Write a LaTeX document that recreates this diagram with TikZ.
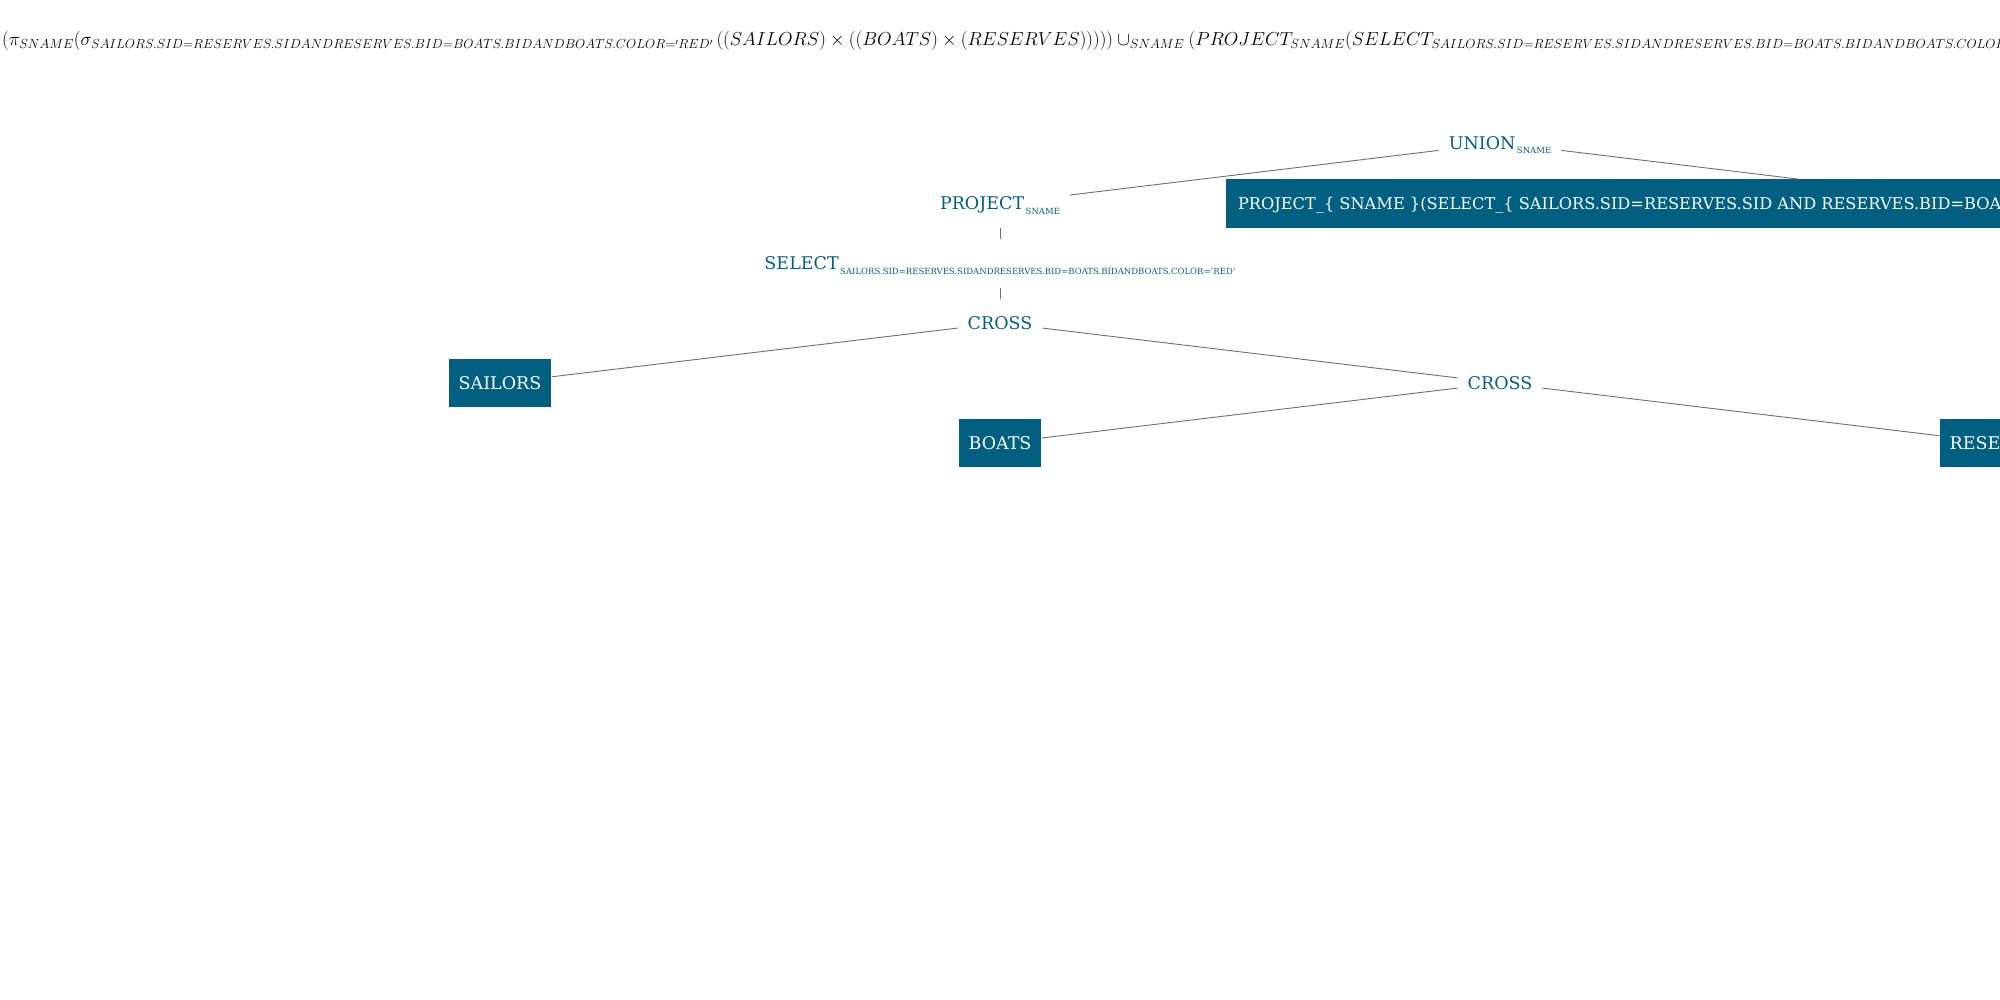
\RequirePackage{fix-cm}
\documentclass[tikz,border=0pt]{standalone}
\usepackage{fontspec}
\setmainfont{DejaVu Serif}
\definecolor{teal0}{RGB}{1,96,130}
\definecolor{edgegray}{RGB}{110,110,110}
\newcommand\opsub[1]{\kern1.5pt\raisebox{-4.5pt}[0pt][0pt]{\fontsize{8.5}{9}\selectfont #1}}
\begin{document}
\begin{tikzpicture}[x=1pt,y=-1pt,
  lbl/.style={text=teal0, inner xsep=10pt, inner ysep=0pt, minimum height=48.5pt,
    text height=12.8pt, text depth=0pt, font=\fontsize{17.5}{20}\selectfont},
  rel/.style={lbl, fill=teal0, text=white},
  edge/.style={draw=edgegray, line width=0.9pt}]
\useasboundingbox (0,0) rectangle (2000,1000);
\clip (0,0) rectangle (2000,1000);
\node[anchor=base west, inner sep=0pt, font=\fontsize{18.8}{22}\selectfont] (formula) at (2,46)
 {$(\pi_{SNAME}(\sigma_{SAILORS.SID=RESERVES.SIDANDRESERVES.BID=BOATS.BIDANDBOATS.COLOR='RED'}\,((SAILORS)\times((BOATS)\times(RESERVES))))) \cup_{SNAME} (PROJECT_{SNAME}(SELECT_{SAILORS.SID=RESERVES.SIDANDRESERVES.BID=BOATS.BIDANDBOATS.COLOR='RED'}$};
\node[lbl] (union) at (1500,143) {UNION\opsub{SNAME}};
\node[lbl] (project) at (1000,203.5) {PROJECT\opsub{SNAME}};
\node[rel, inner xsep=12pt, text height=12pt, font=\fontsize{16.2}{20}\selectfont] (big) at (2000,203.5) {\makebox[1524pt][l]{PROJECT\_\{ SNAME \}(SELECT\_\{ SAILORS.SID=RESERVES.SID AND RESERVES.BID=BOATS.BID AND BOATS.COLOR='RED' \}}};
\node[lbl] (select) at (1000,263.5) {SELECT\opsub{SAILORS.SID=RESERVES.SIDANDRESERVES.BID=BOATS.BIDANDBOATS.COLOR='RED'}};
\node[lbl] (cross1) at (1000,323) {CROSS};
\node[rel] (sailors) at (500,383) {SAILORS};
\node[lbl] (cross2) at (1500,383) {CROSS};
\node[rel] (boats) at (1000,443) {BOATS};
\node[rel] (reserves) at (2000,443) {RESERVES};
\draw[edge] (union) -- (project);
\draw[edge] (union) -- (big);
\draw[edge] (project) -- (select);
\draw[edge] (select) -- (cross1);
\draw[edge] (cross1) -- (sailors);
\draw[edge] (cross1) -- (cross2);
\draw[edge] (cross2) -- (boats);
\draw[edge] (cross2) -- (reserves);
\end{tikzpicture}
\end{document}
